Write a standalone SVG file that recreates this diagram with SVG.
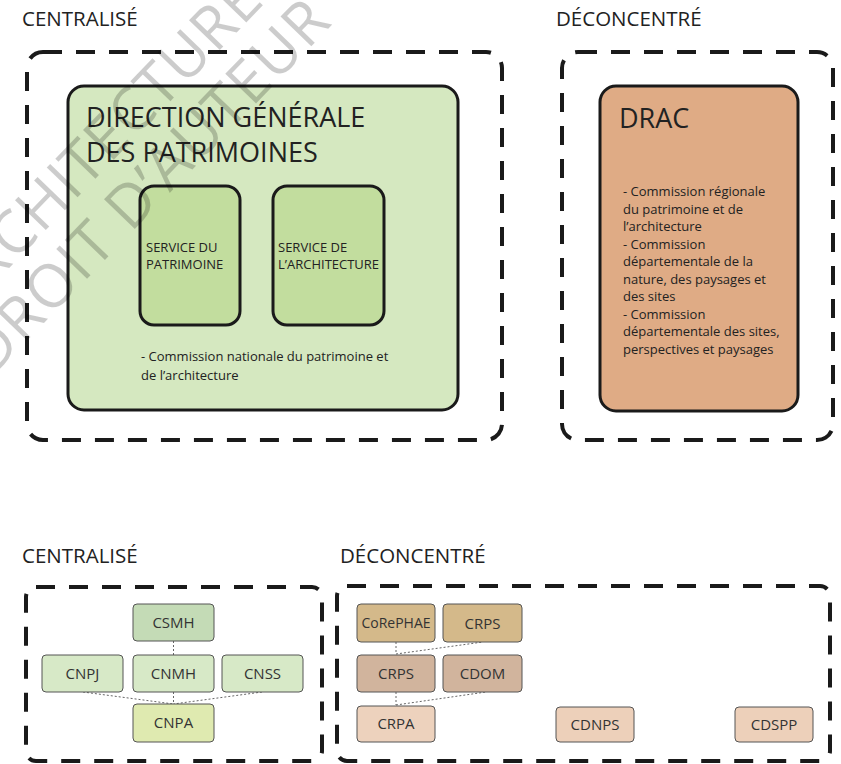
<svg xmlns="http://www.w3.org/2000/svg" width="841" height="764" viewBox="0 0 841 764">
<style>
.t{font-family:"Open Sans","Noto Sans",sans-serif;fill:#222}
.h{font-size:20.5px}
.big{font-size:27px}
.sm{font-size:13px}
.body{font-size:13px}
.dash{fill:none;stroke:#1a1a1a;stroke-width:4;stroke-dasharray:19 14}
.main{stroke:#1a1a1a;stroke-width:3}
.n{stroke:#555;stroke-width:1}
.nt{font-family:"Open Sans","Noto Sans",sans-serif;font-size:15px;fill:#333;text-anchor:middle}
.c{fill:none;stroke:#666;stroke-width:1;stroke-dasharray:2 2}
.wm{font-family:"Open Sans","Noto Sans",sans-serif;font-size:60px;letter-spacing:1.2px;fill:#000;fill-opacity:0.2}
</style>
<rect width="841" height="764" fill="#fff"/>

<text class="t h" x="22" y="26">CENTRALISÉ</text>
<text class="t h" x="556" y="26">DÉCONCENTRÉ</text>
<rect id="zone-centralise-top" class="dash" x="27" y="52" width="475" height="388" rx="16"/>
<rect id="zone-deconcentre-top" class="dash" x="562" y="52" width="271" height="388" rx="16"/>

<g id="dgp">
<rect class="main" x="68" y="86" width="390" height="324" rx="16" fill="#d5e8c0"/>
<text class="t big" x="86" y="127">DIRECTION GÉNÉRALE</text>
<text class="t big" x="86" y="162">DES PATRIMOINES</text>
<text class="t body" x="141" y="361">- Commission nationale du patrimoine et</text>
<text class="t body" x="141" y="380">de l’architecture</text>
</g>
<g id="service-patrimoine">
<rect class="main" x="140" y="186" width="100" height="139" rx="14" fill="#c2dd9e"/>
<text class="t sm" x="146" y="252">SERVICE DU</text>
<text class="t sm" x="146" y="269">PATRIMOINE</text>
</g>
<g id="service-architecture">
<rect class="main" x="273" y="186" width="111" height="139" rx="14" fill="#c2dd9e"/>
<text class="t sm" x="278" y="252">SERVICE DE</text>
<text class="t sm" x="278" y="269">L’ARCHITECTURE</text>
</g>
<g id="drac">
<rect class="main" x="600" y="86" width="198" height="325" rx="16" fill="#dfab85"/>
<text class="t big" x="619" y="128">DRAC</text>
<text class="t body" x="623" y="196">- Commission régionale</text>
<text class="t body" x="623" y="213.5">du patrimoine et de</text>
<text class="t body" x="623" y="231">l’architecture</text>
<text class="t body" x="623" y="248.5">- Commission</text>
<text class="t body" x="623" y="266">départementale de la</text>
<text class="t body" x="623" y="283.5">nature, des paysages et</text>
<text class="t body" x="623" y="301">des sites</text>
<text class="t body" x="623" y="318.5">- Commission</text>
<text class="t body" x="623" y="336">départementale des sites,</text>
<text class="t body" x="623" y="353.5">perspectives et paysages</text>
</g>

<text class="t h" x="22" y="563">CENTRALISÉ</text>
<text class="t h" x="340" y="563">DÉCONCENTRÉ</text>
<rect id="zone-centralise-bottom" class="dash" x="26" y="587" width="296" height="174" rx="10"/>
<rect id="zone-deconcentre-bottom" class="dash" x="337" y="586" width="493" height="175" rx="10"/>

<g id="connectors">
<line class="c" x1="173.5" y1="641" x2="173.5" y2="655"/>
<line class="c" x1="173.5" y1="692" x2="173.5" y2="704"/>
<line class="c" x1="83" y1="692" x2="173.5" y2="704"/>
<line class="c" x1="262" y1="692" x2="173.5" y2="704"/>
<line class="c" x1="396" y1="642" x2="396" y2="654"/>
<line class="c" x1="396" y1="654" x2="483" y2="642"/>
<line class="c" x1="396" y1="692" x2="396" y2="705"/>
<line class="c" x1="396" y1="705" x2="486" y2="692"/>
</g>

<g id="csmh"><rect class="n" x="133" y="604" width="81" height="37" rx="4" fill="#c4dbb6"/><text class="nt" x="173.5" y="628">CSMH</text></g>
<g id="cnpj"><rect class="n" x="42" y="655" width="81" height="37" rx="4" fill="#d7e9c7"/><text class="nt" x="82.5" y="679">CNPJ</text></g>
<g id="cnmh"><rect class="n" x="133" y="655" width="81" height="37" rx="4" fill="#d7e9c7"/><text class="nt" x="173.5" y="679">CNMH</text></g>
<g id="cnss"><rect class="n" x="222" y="655" width="81" height="37" rx="4" fill="#d7e9c7"/><text class="nt" x="262.5" y="679">CNSS</text></g>
<g id="cnpa"><rect class="n" x="133" y="704" width="81" height="38" rx="4" fill="#dfeab0"/><text class="nt" x="173.5" y="728">CNPA</text></g>

<g id="corephae"><rect class="n" x="357" y="604" width="78" height="38" rx="4" fill="#d4b98a"/><text class="nt" x="396" y="628" style="font-size:14px">CoRePHAE</text></g>
<g id="crps-top"><rect class="n" x="443" y="604" width="79" height="38" rx="4" fill="#d4b98a"/><text class="nt" x="482.5" y="629">CRPS</text></g>
<g id="crps"><rect class="n" x="357" y="655" width="78" height="37" rx="4" fill="#d1b49d"/><text class="nt" x="396" y="679">CRPS</text></g>
<g id="cdom"><rect class="n" x="443" y="655" width="79" height="37" rx="4" fill="#d1b49d"/><text class="nt" x="482.5" y="679">CDOM</text></g>
<g id="crpa"><rect class="n" x="357" y="706" width="78" height="36" rx="4" fill="#edd2bd"/><text class="nt" x="396" y="729">CRPA</text></g>
<g id="cdnps"><rect class="n" x="556" y="707" width="78" height="35" rx="4" fill="#edd0ba"/><text class="nt" x="595" y="730">CDNPS</text></g>
<g id="cdspp"><rect class="n" x="735" y="707" width="78" height="35" rx="4" fill="#edd0ba"/><text class="nt" x="774" y="730">CDSPP</text></g>

<g id="watermark">
<text class="wm" transform="translate(-39 318) rotate(-46)">ARCHITECTURE</text>
<text class="wm" transform="translate(-8 377) rotate(-46)">DROIT D’AUTEUR</text>
</g>
</svg>
